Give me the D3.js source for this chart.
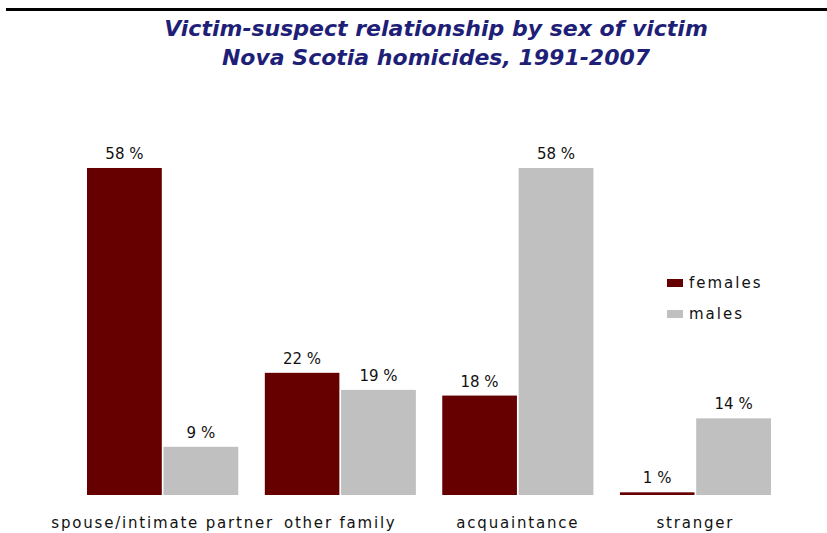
<!DOCTYPE html>
<html>
<head>
<meta charset="utf-8">
<script src="https://cdn.jsdelivr.net/npm/d3@7"></script>
<style>
  html, body { margin: 0; padding: 0; background: #fff; }
  svg { display: block; }
</style>
</head>
<body>
<svg id="chart" width="827" height="533"></svg>
<script>
// Victim-suspect relationship, share of homicide victims (%) by sex
const categories = ["spouse/intimate partner", "other family", "acquaintance", "stranger"];
const seriesNames = ["females", "males"];
const females = [58, 22, 18, 1];
const males = [9, 19, 58, 14];
const titleLines = ["Victim-suspect relationship by sex of victim", "Nova Scotia homicides, 1991-2007"];

const colors = { females: "#660000", males: "#c0c0c0" };
const labelFont = "DejaVu Sans, Verdana, sans-serif";

const svg = d3.select("#chart");

// top rule
svg.append("rect").attr("x", 6).attr("y", 8).attr("width", 821).attr("height", 3).attr("fill", "#000");

// title
svg.append("g").selectAll("text").data(titleLines).join("text")
  .attr("x", 436).attr("y", (d, i) => 36 + i * 29)
  .attr("text-anchor", "middle")
  .attr("font-family", labelFont)
  .attr("font-weight", "bold").attr("font-style", "italic")
  .attr("font-size", 22).attr("fill", "#1f1f78")
  .text(d => d);

// scales
const plotBottom = 495;
const x0 = d3.scaleBand().domain(categories).range([87, 771]).paddingInner(0.148).paddingOuter(0);
const x1 = d3.scaleBand().domain(seriesNames).range([0, x0.bandwidth()]).paddingInner(0.022);
const y = d3.scaleLinear().domain([0, 60]).range([498, 498 - 60 * 5.69]);

svg.append("clipPath").attr("id", "plot-clip")
  .append("rect").attr("x", 0).attr("y", 0).attr("width", 827).attr("height", plotBottom);

const rows = categories.map((c, i) => ({ cat: c, values: [
  { key: "females", value: females[i] },
  { key: "males", value: males[i] }
]}));

const groups = svg.append("g").selectAll("g").data(rows).join("g")
  .attr("transform", d => `translate(${x0(d.cat)},0)`);

groups.append("g").attr("clip-path", "url(#plot-clip)")
  .selectAll("rect").data(d => d.values).join("rect")
  .attr("x", d => x1(d.key))
  .attr("width", x1.bandwidth())
  .attr("y", d => y(d.value))
  .attr("height", d => y(0) - y(d.value))
  .attr("fill", d => colors[d.key]);

groups.selectAll("text.val").data(d => d.values).join("text")
  .attr("class", "val")
  .attr("x", d => x1(d.key) + x1.bandwidth() / 2)
  .attr("y", d => y(d.value) - 9)
  .attr("text-anchor", "middle")
  .attr("font-family", labelFont)
  .attr("font-size", 15).attr("fill", "#111")
  .text(d => d.value + " %");

// category axis labels
const xAxis = d3.axisBottom(x0).tickSize(0).tickPadding(0);
const ax = svg.append("g").attr("transform", "translate(0,528)").call(xAxis);
ax.select(".domain").remove();
ax.selectAll("text")
  .attr("dy", 0)
  .attr("font-family", labelFont)
  .attr("font-size", 15).attr("letter-spacing", 1.8).attr("fill", "#111");

// legend
const legend = svg.append("g").selectAll("g").data(seriesNames).join("g")
  .attr("transform", (d, i) => `translate(667,${279 + i * 31})`);
legend.append("rect").attr("width", 16).attr("height", 8).attr("fill", d => colors[d]);
legend.append("text").attr("x", 22).attr("y", 9)
  .attr("font-family", labelFont)
  .attr("font-size", 15).attr("letter-spacing", 2).attr("fill", "#111")
  .text(d => d);
</script>
</body>
</html>
